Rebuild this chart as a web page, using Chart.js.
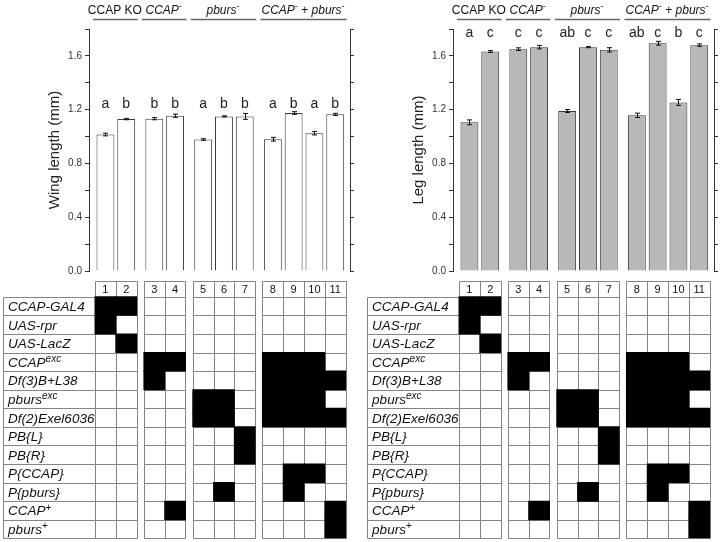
<!DOCTYPE html>
<html>
<head>
<meta charset="utf-8">
<script src="https://cdn.jsdelivr.net/npm/chart.js@4.4.1/dist/chart.umd.min.js"></script>
<style>
html, body { margin: 0; padding: 0; background: #fff; }
#wrap { position: relative; width: 720px; height: 542px; }
canvas { position: absolute; }
</style>
</head>
<body>
<div id="wrap"></div>
<script>
// genotype columns and groups
var columns = ['1', '2', '3', '4', '5', '6', '7', '8', '9', '10', '11'];
var groupSizes = [2, 2, 3, 4];
var groupTitles = ['CCAP KO', '_CCAP_^{-}', '_pburs_^{-}', '_CCAP_^{-} + _pburs_^{-}'];

// wing length (mm)
var wingLength = [1.015, 1.13, 1.133, 1.155, 0.978, 1.15, 1.15, 0.98, 1.175, 1.025, 1.165];
var wingError = [0.01, 0.005, 0.008, 0.012, 0.006, 0.004, 0.022, 0.014, 0.01, 0.013, 0.008];
var wingLetters = ['a', 'b', 'b', 'b', 'a', 'b', 'b', 'a', 'b', 'a', 'b'];

// leg length (mm)
var legLength = [1.106, 1.632, 1.65, 1.665, 1.19, 1.665, 1.645, 1.158, 1.694, 1.254, 1.68];
var legError = [0.018, 0.007, 0.01, 0.013, 0.011, 0.004, 0.016, 0.016, 0.014, 0.022, 0.009];
var legLetters = ['a', 'c', 'c', 'c', 'ab', 'c', 'c', 'ab', 'c', 'b', 'c'];

// genotype table: row labels and the columns that carry each element
var genotypeRows = ['_CCAP-GAL4_', '_UAS-rpr_', '_UAS-LacZ_', '_CCAP^{exc}_', '_Df(3)B+L38_',
  '_pburs^{exc}_', '_Df(2)Exel6036_', '_PB{L}_', '_PB{R}_', '_P{CCAP}_', '_P{pburs}_',
  '_CCAP_^{+}', '_pburs_^{+}'];
var genotypeCols = [[1, 2], [1], [2], [3, 4, 8, 9, 10], [3, 8, 9, 10, 11], [5, 6, 8, 9, 10],
  [5, 6, 8, 9, 10, 11], [7], [7], [9, 10], [6, 9], [4, 11], [11]];

var FONT = '"Liberation Sans", Arial, sans-serif';
Chart.defaults.font.family = FONT;

var GAP = 0.35;
var XMIN = -0.29, XMAX = 12.26, LABEL_LEFT = -4.42;
var colPos = [], groupSpans = [];
var start = 0;
groupSizes.forEach(function (n) {
    groupSpans.push([start, start + n]);
    for (var k = 0; k < n; k++) colPos.push(start + k + 0.5);
    start += n + GAP;
});

// tiny markup: _italic_, ^{superscript}
function parseRich(s) {
    var segs = [], italic = false, sup = false, buf = '';
    function flush() { if (buf) segs.push({ t: buf, i: italic, s: sup }); buf = ''; }
    for (var k = 0; k < s.length; k++) {
        var c = s[k];
        if (c === '_') { flush(); italic = !italic; }
        else if (c === '^' && s[k + 1] === '{') { flush(); sup = true; k++; }
        else if (c === '}' && sup) { flush(); sup = false; }
        else buf += c;
    }
    flush();
    return segs;
}
function segFont(s, size) {
    return (s.i ? 'italic ' : '') + (s.s ? Math.round(size * 0.72) : size) + 'px ' + FONT;
}
function drawRich(ctx, text, x, y, size, align) {
    var segs = parseRich(text);
    var widths = segs.map(function (s) { ctx.font = segFont(s, size); return ctx.measureText(s.t).width; });
    var total = widths.reduce(function (a, b) { return a + b; }, 0);
    var cx = align === 'center' ? x - total / 2 : x;
    ctx.textAlign = 'left';
    ctx.textBaseline = 'alphabetic';
    segs.forEach(function (s, k) {
        ctx.font = segFont(s, size);
        ctx.fillText(s.t, cx, s.s ? y - size * 0.36 : y);
        cx += widths[k];
    });
}

var panels = [
    { left: 0, axisLeft: 89, axisRight: 350, values: wingLength, errors: wingError, letters: wingLetters, letterLevel: 1.215, title: 'Wing length (mm)', fill: '#ffffff' },
    { left: 360, axisLeft: 93, axisRight: 354, values: legLength, errors: legError, letters: legLetters, letterLevel: 1.737, title: 'Leg length (mm)', fill: '#b8b8b8' }
];

var wrap = document.getElementById('wrap');
function addCanvas(left, top, w, h) {
    var c = document.createElement('canvas');
    c.width = w; c.height = h;
    c.style.left = left + 'px'; c.style.top = top + 'px';
    c.style.width = w + 'px'; c.style.height = h + 'px';
    wrap.appendChild(c);
    return c;
}

function barExtras(p) {
    return {
        id: 'barExtras',
        afterDatasetsDraw: function (chart) {
            var ctx = chart.ctx, xs = chart.scales.x, ys = chart.scales.y;
            ctx.save();
            // error bars
            ctx.strokeStyle = '#111';
            ctx.lineWidth = 1;
            p.values.forEach(function (v, i) {
                var x = Math.round(xs.getPixelForValue(colPos[i])) + 0.5;
                var yHi = ys.getPixelForValue(v + p.errors[i]);
                var yLo = ys.getPixelForValue(v - p.errors[i]);
                ctx.beginPath();
                ctx.moveTo(x, yHi); ctx.lineTo(x, yLo);
                ctx.moveTo(x - 2.5, yHi); ctx.lineTo(x + 2.5, yHi);
                ctx.moveTo(x - 2.5, yLo); ctx.lineTo(x + 2.5, yLo);
                ctx.stroke();
            });
            // significance letters
            ctx.fillStyle = '#222';
            ctx.font = '14px ' + FONT;
            ctx.textAlign = 'center';
            ctx.textBaseline = 'alphabetic';
            var ly = ys.getPixelForValue(p.letterLevel);
            p.letters.forEach(function (t, i) {
                ctx.fillText(t, xs.getPixelForValue(colPos[i]), ly);
            });
            // group titles with underline
            groupSpans.forEach(function (span, g) {
                var x0 = xs.getPixelForValue(span[0]), x1 = xs.getPixelForValue(span[1]);
                ctx.fillStyle = '#111';
                drawRich(ctx, groupTitles[g], (x0 + x1) / 2 - 1, 13.5, 12, 'center');
                ctx.strokeStyle = '#666';
                ctx.lineWidth = 1.5;
                ctx.beginPath();
                ctx.moveTo(x0 - 2, 19.5); ctx.lineTo(x1 + 1, 19.5);
                ctx.stroke();
            });
            ctx.restore();
        }
    };
}

var tableGrid = {
    id: 'tableGrid',
    beforeDatasetsDraw: function (chart) {
        var ctx = chart.ctx, xs = chart.scales.x, ys = chart.scales.y;
        var px = function (v) { return Math.round(xs.getPixelForValue(v)) + 0.5; };
        var py = function (v) { return Math.round(ys.getPixelForValue(v)) + 0.5; };
        var nRows = genotypeRows.length;
        var yHead = py(-0.85), yTop = py(0), yBot = py(nRows);
        ctx.save();
        ctx.strokeStyle = '#858585';
        ctx.lineWidth = 1;
        ctx.beginPath();
        // label column box
        var lx0 = px(LABEL_LEFT), lx1 = px(0);
        ctx.rect(lx0, yTop, lx1 - lx0, yBot - yTop);
        for (var r = 1; r < nRows; r++) { ctx.moveTo(lx0, py(r)); ctx.lineTo(lx1, py(r)); }
        groupSpans.forEach(function (span) {
            var gx0 = px(span[0]), gx1 = px(span[1]);
            ctx.rect(gx0, yHead, gx1 - gx0, yBot - yHead);
            ctx.moveTo(gx0, yTop); ctx.lineTo(gx1, yTop);
            for (var k = span[0] + 1; k < span[1] - 0.01; k++) { ctx.moveTo(px(k), yHead); ctx.lineTo(px(k), yBot); }
            for (var r2 = 1; r2 < nRows; r2++) { ctx.moveTo(gx0, py(r2)); ctx.lineTo(gx1, py(r2)); }
        });
        ctx.stroke();
        ctx.restore();
    },
    afterDraw: function (chart) {
        var ctx = chart.ctx, xs = chart.scales.x, ys = chart.scales.y;
        ctx.save();
        ctx.fillStyle = '#111';
        ctx.font = '11px ' + FONT;
        ctx.textAlign = 'center';
        ctx.textBaseline = 'middle';
        columns.forEach(function (c, i) {
            ctx.fillText(c, xs.getPixelForValue(colPos[i]), ys.getPixelForValue(-0.42) + 0.5);
        });
        var lx = xs.getPixelForValue(LABEL_LEFT) + 5;
        genotypeRows.forEach(function (name, r) {
            drawRich(ctx, name, lx, ys.getPixelForValue(r + 0.5) + 5, 13.5, 'left');
        });
        ctx.restore();
    }
};

panels.forEach(function (p) {
    var barCanvas = addCanvas(p.left, 0, 360, 280);
    new Chart(barCanvas, {
        type: 'bar',
        data: {
            datasets: [{
                data: colPos.map(function (x, i) { return { x: x, y: p.values[i] }; }),
                backgroundColor: p.fill,
                borderColor: '#3a3a3a',
                borderWidth: 1,
                barPercentage: 0.86,
                categoryPercentage: 1
            }]
        },
        options: {
            responsive: false,
            animation: false,
            layout: { padding: { top: 29, right: 0, bottom: 8, left: 0 } },
            plugins: { legend: { display: false }, tooltip: { enabled: false } },
            scales: {
                x: { type: 'linear', offset: false, min: XMIN, max: XMAX, display: false, ticks: { stepSize: 1, includeBounds: false } },
                y: {
                    min: 0, max: 1.8,
                    ticks: {
                        stepSize: 0.2, color: '#333', padding: 3, font: { size: 10 },
                        callback: function (v) { return Math.round(v * 10) % 4 === 0 ? v.toFixed(1) : ''; }
                    },
                    grid: { drawOnChartArea: false, tickLength: 4, color: '#333' },
                    border: { color: '#333' },
                    title: { display: true, text: p.title, color: '#222', font: { size: 15 }, padding: { top: p.axisLeft - 43, bottom: 0 } },
                    afterFit: function (s) { s.width = p.axisLeft; }
                },
                y2: {
                    position: 'right', min: 0, max: 1.8,
                    ticks: { stepSize: 0.2, display: false },
                    grid: { drawOnChartArea: false, tickLength: 4, color: '#333' },
                    border: { color: '#333' },
                    afterFit: function (s) { s.width = 360 - p.axisRight; }
                }
            }
        },
        plugins: [barExtras(p)]
    });

    var cells = [];
    genotypeCols.forEach(function (cols, r) {
        cols.forEach(function (c) { cells.push({ x: colPos[c - 1], y: [r, r + 1] }); });
    });
    var tableCanvas = addCanvas(p.left, 276, 360, 266);
    new Chart(tableCanvas, {
        type: 'bar',
        data: {
            datasets: [{
                data: cells,
                backgroundColor: '#000',
                borderWidth: 0,
                barPercentage: 1,
                categoryPercentage: 1,
                inflateAmount: 0.5
            }]
        },
        options: {
            responsive: false,
            animation: false,
            layout: { padding: { left: p.axisLeft, right: 360 - p.axisRight, top: 5, bottom: 3.7 } },
            plugins: { legend: { display: false }, tooltip: { enabled: false } },
            scales: {
                x: { type: 'linear', offset: false, min: XMIN, max: XMAX, display: false, ticks: { stepSize: 1, includeBounds: false } },
                y: { type: 'linear', min: -0.85, max: genotypeRows.length, reverse: true, display: false }
            }
        },
        plugins: [tableGrid]
    });
});
</script>
</body>
</html>
